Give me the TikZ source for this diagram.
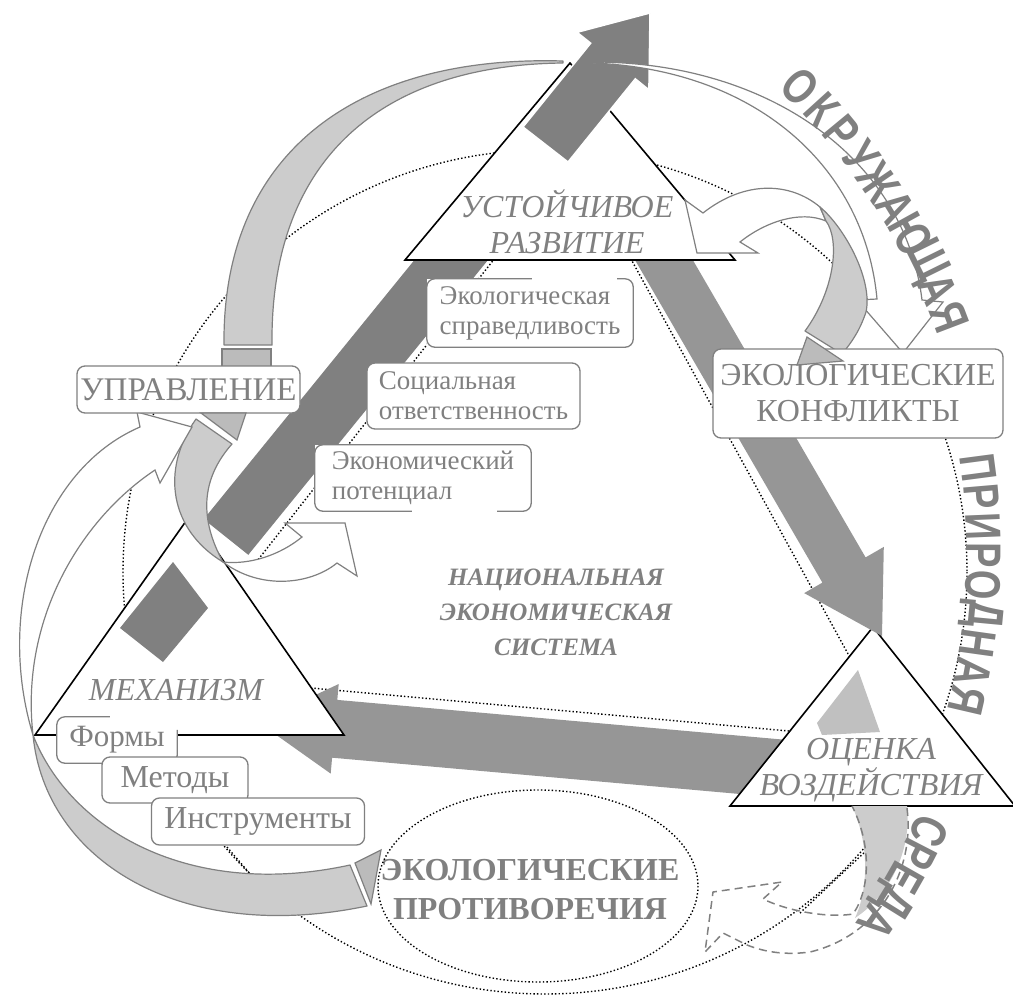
\documentclass[tikz,border=0pt]{standalone}
\usepackage{fontspec}
\setmainfont{Liberation Serif}
\setsansfont{Liberation Sans}
\usetikzlibrary{positioning}

\definecolor{txtgray}{HTML}{808080}
\definecolor{darkgr}{HTML}{808080}
\definecolor{midgr}{HTML}{969696}
\definecolor{lightgr}{HTML}{CCCCCC}
\definecolor{tipgr}{HTML}{BBBBBB}
\definecolor{spotgr}{HTML}{C0C0C0}

\tikzset{
  trig/.style={draw=black, fill=white, line width=1.6pt, line join=miter},
  lbox/.style={draw=txtgray, fill=white, rounded corners=8pt, line width=1.3pt, text=txtgray, inner sep=0pt},
  lfill/.style={fill=white, text=txtgray, inner sep=0pt},
  boxline/.style={draw=txtgray, rounded corners=8pt, line width=1.3pt},
  dotline/.style={line width=1.4pt, dash pattern=on 1.4pt off 2.2pt},
  band/.style={fill=lightgr, draw=txtgray, line width=1.2pt, line join=round},
  hollow/.style={fill=white, draw=txtgray, line width=1.2pt, line join=miter},
  tipbit/.style={fill=tipgr, draw=txtgray, line width=1.2pt},
  dashband/.style={draw=txtgray, line width=1.5pt, dash pattern=on 8pt off 5pt},
  ring/.style={text=txtgray, font=\sffamily\bfseries\fontsize{50}{50}\selectfont, inner sep=0pt},
  ital/.style={text=txtgray, font=\itshape\fontsize{32}{36}\selectfont, align=center},
}

\begin{document}
\begin{tikzpicture}[x=1pt, y=-1pt]
\useasboundingbox (0,0) rectangle (1013,996);

% dotted rings and guide lines
\draw[dotline] (545,572) circle [radius=422];
\draw[dotline] (517,230) -- (250,570);
\draw[dotline] (615,230) -- (858,672);
\draw[dotline] (300,687) -- (800,732);
\draw[dotline] (227,847) -- (257,882);
\draw[dotline] (800,913) -- (867,850);

% main flows
\fill[darkgr] (203.7,519.2) -- (590.7,43.2) -- (577.1,32.3) -- (650,13) -- (648.9,89.8) -- (635.3,78.8) -- (248.3,554.8) -- cycle;
\fill[midgr] (822.6,743.1) -- (337.3,699.9) -- (338.7,684.0) -- (258,722) -- (330.7,773.6) -- (332.1,757.7) -- (817.4,800.9) -- cycle;
\draw[trig] (873,627) -- (730,806) -- (1015,806) -- cycle;
\fill[midgr] (656.5,197.5) -- (865.6,557.4) -- (883.8,546.9) -- (882,636) -- (804.2,593.1) -- (822.4,582.6) -- (613.3,222.7) -- cycle;
\draw[trig] (570,63) -- (405,260) -- (735,260) -- cycle;
\draw[trig] (191,514) -- (35,735) -- (344,735) -- cycle;
\filldraw[darkgr, draw=white, line width=1.5pt] (523,127) -- (590.7,43.2) -- (577.1,32.3) -- (650,13) -- (648.9,89.8) -- (635.3,78.8) -- (568,162) -- cycle;
\fill[darkgr] (173,562) -- (208,608) -- (163,662) -- (120,628) -- cycle;
\fill[spotgr] (858,670) -- (880,732) -- (822,735) -- (817,723) -- cycle;

% values
\node[lfill, minimum width=206, minimum height=68, font=\fontsize{27}{30}\selectfont, align=left] (spr) at (530,313) {Экологическая\\справедливость};
\draw[boxline] ([xshift=105]spr.north west) -- (spr.north west) -- (spr.south west) -- (spr.south east) -- (spr.north east) -- ([xshift=-16]spr.north east);
\node[lbox, minimum width=213, minimum height=66, font=\fontsize{27}{30}\selectfont, align=left] (otv) at (473.5,396) {Социальная\\ответственность};
\node[lfill, minimum width=216, minimum height=66, font=\fontsize{27}{30}\selectfont, align=left] (pot) at (423,478) {Экономический\\потенциал};
\draw[boxline] ([xshift=97]pot.south west) -- (pot.south west) -- (pot.north west) -- (pot.north east) -- (pot.south east) -- ([xshift=-34]pot.south east);

% curved arrows
\draw[hollow] (593,62) .. controls (770,62) and (905,160) .. (922,300) -- (943,302) -- (903,353) -- (857,300) -- (877,299) .. controls (865,170) and (760,70) .. (593,63) -- cycle;
\draw[band] (563,61) .. controls (360,55) and (222,150) .. (224,345) -- (272,345) .. controls (270,160) and (380,65) .. (563,63) -- cycle;
\draw[tipbit] (222,349) rectangle (271,368);
\draw[hollow] (703,213) .. controls (745,180) and (790,182) .. (820,207) -- (826,221) .. controls (800,210) and (765,222) .. (740,242) -- (758,253) -- (697,253) -- (685,200) -- cycle;
\draw[band] (820,207) .. controls (845,228) and (873,280) .. (866,312) .. controls (860,330) and (852,342) .. (842,354) -- (805,331) .. controls (835,290) and (840,240) .. (826,221) -- cycle;
\draw[hollow] (223,562) .. controls (260,590) and (310,585) .. (337,563) -- (357,576) -- (345,523) -- (285,523) -- (302,537) .. controls (280,555) and (250,565) .. (223,562) -- cycle;
\draw[band] (196,419) .. controls (160,470) and (170,530) .. (223,562) .. controls (200,520) and (200,480) .. (232,444) -- cycle;
\draw[hollow] (33,735) .. controls (-5,610) and (40,470) .. (140,427) -- (137,412) -- (192,427) -- (160,483) -- (155,470) .. controls (80,520) and (20,620) .. (33,735) -- cycle;
\draw[band] (33,735) .. controls (70,830) and (190,900) .. (350,865) -- (367,906) .. controls (180,945) and (45,860) .. (33,735) -- cycle;
\draw[tipbit] (355,863) -- (381,850) -- (371,904) -- cycle;

% assessment loop
\fill[lightgr] (852,806) .. controls (870,845) and (868,890) .. (855,918) .. controls (890,895) and (912,850) .. (907,806) -- cycle;
\draw[dashband] (907,808) .. controls (915,870) and (880,935) .. (810,952) .. controls (780,956) and (760,950) .. (747,945) -- (723,933) -- (705,952) -- (713,892) -- (782,882) -- (763,899) .. controls (790,912) and (830,918) .. (853,914) .. controls (870,890) and (872,845) .. (852,806);

% boxes
\node[lbox, minimum width=223, minimum height=47, font=\fontsize{33}{36}\selectfont] (upr) at (188.5,389.5) {УПРАВЛЕНИЕ};
\node[lbox, minimum width=290, minimum height=89, font=\fontsize{32}{36}\selectfont, align=center] (konf) at (858,393.5) {ЭКОЛОГИЧЕСКИЕ\\КОНФЛИКТЫ};
\node[lfill, minimum width=120, minimum height=46, font=\fontsize{31}{36}\selectfont] (formy) at (117,740) {Формы};
\draw[boxline] ([xshift=53]formy.north west) -- (formy.north west) -- (formy.south west) -- (formy.south east) -- ([yshift=-13]formy.north east);
\node[lbox, minimum width=146, minimum height=46, font=\fontsize{32}{36}\selectfont] (metody) at (175,780) {Методы};
\node[lbox, minimum width=213, minimum height=47, font=\fontsize{32}{36}\selectfont] (instr) at (258,821.5) {Инструменты};
\node[text=txtgray, font=\bfseries\fontsize{32}{39}\selectfont, align=center] (protiv) at (530,890) {ЭКОЛОГИЧЕСКИЕ\\ПРОТИВОРЕЧИЯ};
\draw[dotline] (538,886) ellipse [x radius=160, y radius=96];
\draw[tipbit] (807,337) -- (843,361) -- (797,365) -- cycle;
\draw[tipbit] (201,413) -- (246,413) -- (237,440) -- cycle;

% triangle captions
\node[ital] (ustoi) at (567,222) {УСТОЙЧИВОЕ\\РАЗВИТИЕ};
\node[ital] (mehan) at (176,690) {МЕХАНИЗМ};
\node[ital] (ocenka) at (871,770) {ОЦЕНКА\\ВОЗДЕЙСТВИЯ};
\node[text=txtgray, font=\bfseries\itshape\fontsize{25}{35}\selectfont, align=center] (nes) at (556,612) {НАЦИОНАЛЬНАЯ\\ЭКОНОМИЧЕСКАЯ\\СИСТЕМА};

% ring words
\begin{scope}[shift={(333,553)}]
\foreach \ch [count=\i from 0] in {О,К,Р,У,Ж,А,Ю,Щ,А,Я}
  \node[ring, rotate={44.9-2.667*\i-90}] at ({-(44.9-2.667*\i)}:660) {\scalebox{0.76}[1]{\ch}};
\foreach \ch [count=\i from 0] in {П,Р,И,Р,О,Д,Н,А,Я}
  \node[ring, rotate={7.5-2.575*\i-90}] at ({-(7.5-2.575*\i)}:651) {\scalebox{0.76}[1]{\ch}};
\foreach \ch [count=\i from 0] in {С,Р,Е,Д,А}
  \node[ring, rotate={-25-2.3*\i-90}] at ({25+2.3*\i}:658) {\scalebox{0.76}[1]{\ch}};
\end{scope}

\end{tikzpicture}
\end{document}
